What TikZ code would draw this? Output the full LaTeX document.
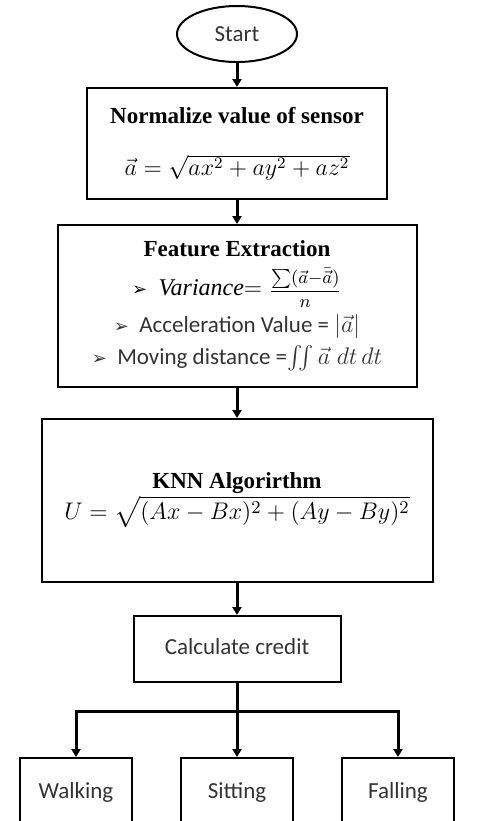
\documentclass[tikz,border=0pt]{standalone}
\usepackage{amsmath,amssymb}
\usepackage{fontspec}
\setmainfont{Liberation Serif}
\newfontfamily\calib{Carlito}
\newfontfamily\dejavu{DejaVu Sans}
\usetikzlibrary{arrows.meta,positioning,shapes.geometric}
\newcommand{\bul}{{\dejavu\fontsize{9}{11}\selectfont ➢}\ \ }

\begin{document}
\begin{tikzpicture}[
  font=\fontsize{11.5}{14}\selectfont,
  bx/.style={draw=black,line width=1pt,align=center,inner sep=2pt},
  sb/.style={bx,font=\calib\fontsize{11.5}{14}\selectfont,text=black!80,
             text height=8pt,text depth=2.5pt},
  tl/.style={ellipse,draw=black,line width=1pt,minimum width=60pt,minimum height=28pt,
             inner sep=0pt,font=\calib\fontsize{11.5}{14}\selectfont,text=black!80},
  ar/.style={-{Triangle[length=4pt,width=4.5pt]},line width=1.5pt},
  ln/.style={line width=1.5pt}
]
\useasboundingbox (0,0) rectangle (241pt,-410.5pt);
\node[tl] (start) at (118.5pt,-17pt) {Start};
\node[bx,minimum width=150pt,minimum height=55.5pt,below=12pt of start] (norm)
  {\textbf{Normalize value of sensor}\\[12pt]
   $\vec{a} = \sqrt{ax^2+ay^2+az^2}$};
\draw[ar] (start) -- (norm);

\node[bx,minimum width=179.5pt,minimum height=81pt,below=12pt of norm] (feat)
  {\textbf{Feature Extraction}\\[5.5pt]
   \bul{\large\textit{Variance}}$=$\;{\fontsize{9.5}{11}\selectfont$\dfrac{\sum(\vec{a}{-}\bar{\vec{a}})}{n}$}\\[2.5pt]
   {\calib\color{black!80}\bul Acceleration Value = $|\vec{a}|$}\\[2pt]
   {\calib\color{black!80}\bul Moving distance =$\iint \vec{a}\;dt\,dt$}};
\draw[ar] (norm) -- (feat);

\node[bx,minimum width=195.5pt,minimum height=81.5pt,below=15pt of feat] (knn)
  {\textbf{KNN Algorirthm}\\
   {\fontsize{13}{15}\selectfont$U = \sqrt{(Ax-Bx)^2+(Ay-By)^2}$}};
\draw[ar] (feat) -- (knn);

\node[sb,minimum width=103.5pt,minimum height=33pt,below=16pt of knn] (calc) {Calculate credit};
\draw[ar] (knn) -- (calc);

% three outcomes
\node[sb,minimum width=56pt,minimum height=35pt,below=37pt of calc] (sit) {Sitting};
\node[sb,minimum width=56pt,minimum height=35pt,left=23.5pt of sit] (walk) {Walking};
\node[sb,minimum width=56pt,minimum height=35pt,right=23.5pt of sit] (fall) {Falling};
\coordinate[below=14pt of calc.south] (split);
\draw[ln] (calc.south) -- (split);
\foreach \leaf in {walk,sit,fall}
  \draw[ar] (split) -| (\leaf.north);
\end{tikzpicture}
\end{document}
